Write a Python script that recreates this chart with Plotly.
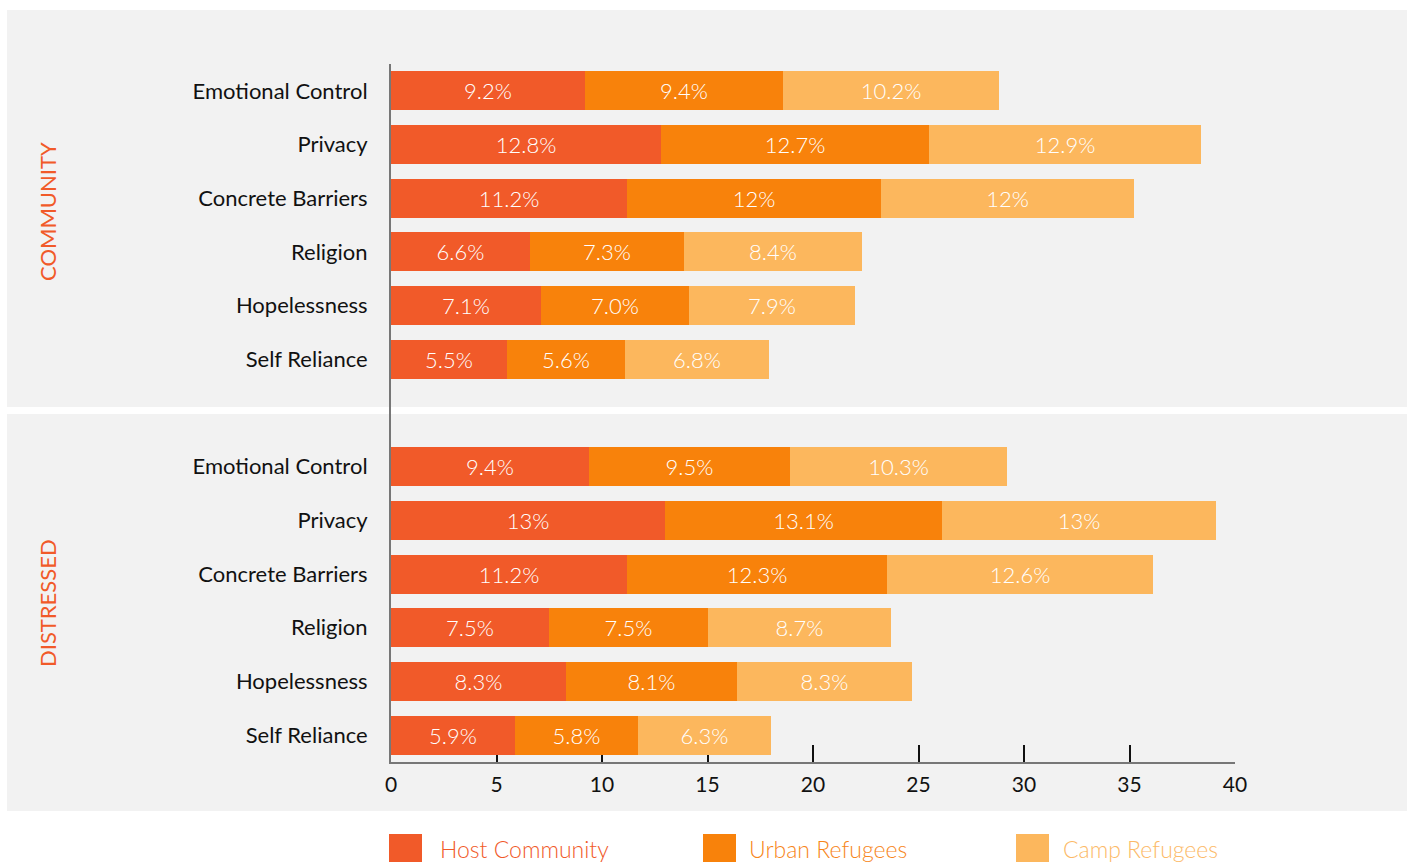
import plotly.graph_objects as go

# ---------------- data ----------------
categories = ["Emotional Control", "Privacy", "Concrete Barriers",
              "Religion", "Hopelessness", "Self Reliance"]
groups = ["COMMUNITY", "DISTRESSED"]
series = ["Host Community", "Urban Refugees", "Camp Refugees"]

host_community = [9.2, 12.8, 11.2, 6.6, 7.1, 5.5]
urban_community = [9.4, 12.7, 12.0, 7.3, 7.0, 5.6]
camp_community = [10.2, 12.9, 12.0, 8.4, 7.9, 6.8]

host_distressed = [9.4, 13.0, 11.2, 7.5, 8.3, 5.9]
urban_distressed = [9.5, 13.1, 12.3, 7.5, 8.1, 5.8]
camp_distressed = [10.3, 13.0, 12.6, 8.7, 8.3, 6.3]

host_community_labels = ["9.2%", "12.8%", "11.2%", "6.6%", "7.1%", "5.5%"]
urban_community_labels = ["9.4%", "12.7%", "12%", "7.3%", "7.0%", "5.6%"]
camp_community_labels = ["10.2%", "12.9%", "12%", "8.4%", "7.9%", "6.8%"]
host_distressed_labels = ["9.4%", "13%", "11.2%", "7.5%", "8.3%", "5.9%"]
urban_distressed_labels = ["9.5%", "13.1%", "12.3%", "7.5%", "8.1%", "5.8%"]
camp_distressed_labels = ["10.3%", "13%", "12.6%", "8.7%", "8.3%", "6.3%"]

x_ticks = [0, 5, 10, 15, 20, 25, 30, 35, 40]

# ---------------- style ----------------
colors = ["#F15A29", "#F8820B", "#FCB75D"]
legend_text_colors = ["#F15A29", "#F7861A", "#FCBA68"]
panel_gray = "#F2F2F2"
FONT = "Lato"

W_PX, H_PX = 1407, 862
L, R, T, B = 391, 1235, 64, 762


def px_x(x):
    return (x - L) / (R - L)


def px_y(y):
    return (B - y) / (B - T)


n = len(categories)
pos_comm = list(range(n))
pos_dist = [n + 1 + i for i in range(n)]
positions = pos_comm + pos_dist

values = [
    (host_community + host_distressed, host_community_labels + host_distressed_labels),
    (urban_community + urban_distressed, urban_community_labels + urban_distressed_labels),
    (camp_community + camp_distressed, camp_community_labels + camp_distressed_labels),
]

fig = go.Figure()
for name, color, (vals, labs) in zip(series, colors, values):
    fig.add_trace(go.Bar(
        name=name, y=positions, x=vals, orientation="h",
        marker=dict(color=color, line=dict(width=0)),
        width=0.726,
        text=labs, texttemplate="%{text}", textposition="inside",
        insidetextanchor="middle",
        textfont=dict(family=FONT, size=22, color="white", weight=300),
        hoverinfo="x+name", showlegend=False,
    ))

shapes = [
    dict(type="rect", xref="paper", yref="paper", layer="below",
         x0=px_x(7), x1=px_x(1410), y0=px_y(407), y1=px_y(10),
         fillcolor=panel_gray, line=dict(width=0)),
    dict(type="rect", xref="paper", yref="paper", layer="below",
         x0=px_x(7), x1=px_x(1410), y0=px_y(811), y1=px_y(414),
         fillcolor=panel_gray, line=dict(width=0)),
]

annotations = [
    dict(text=groups[0], xref="paper", yref="paper", x=px_x(47), y=px_y(212),
         textangle=-90, showarrow=False, xanchor="center", yanchor="middle",
         font=dict(family=FONT, size=22, color="#F15A29")),
    dict(text=groups[1], xref="paper", yref="paper", x=px_x(47), y=px_y(603),
         textangle=-90, showarrow=False, xanchor="center", yanchor="middle",
         font=dict(family=FONT, size=22, color="#F15A29")),
]

# manual legend
legend_box_x = [389, 703, 1016]
legend_text_x = [438, 747, 1061]
for name, color, tcolor, bx, tx in zip(series, colors, legend_text_colors,
                                       legend_box_x, legend_text_x):
    shapes.append(dict(type="rect", xref="paper", yref="paper",
                       x0=px_x(bx), x1=px_x(bx + 33), y0=px_y(870), y1=px_y(834),
                       fillcolor=color, line=dict(width=0)))
    annotations.append(dict(text=name, xref="paper", yref="paper",
                            x=px_x(tx), y=px_y(849), showarrow=False,
                            xanchor="left", yanchor="middle",
                            font=dict(family=FONT, size=23, color=tcolor, weight=300)))

fig.update_layout(
    width=W_PX, height=H_PX,
    margin=dict(l=L, r=W_PX - R, t=T, b=H_PX - B, pad=0),
    barmode="stack", bargap=0,
    paper_bgcolor="white", plot_bgcolor="rgba(0,0,0,0)",
    font=dict(family=FONT, color="#111111"),
    shapes=shapes, annotations=annotations,
    xaxis=dict(range=[0, 40], tickvals=x_ticks, ticktext=[str(t) for t in x_ticks],
               showgrid=False, zeroline=False,
               showline=True, linecolor="#777777", linewidth=2,
               ticks="inside", ticklen=17, tickwidth=2, tickcolor="#111111",
               tickfont=dict(family=FONT, size=21, color="#111111"),
               ticklabelstandoff=3, fixedrange=True, layer="below traces"),
    yaxis=dict(range=[len(positions) + 0.5, -0.5],
               tickvals=positions, ticktext=categories + categories,
               showgrid=False, zeroline=False,
               showline=True, linecolor="#777777", linewidth=2,
               ticks="", tickfont=dict(family=FONT, size=22, color="#111111"),
               ticklabelstandoff=17, fixedrange=True),
)

fig.write_html(
    "out.html",
    config={"displayModeBar": False},
    post_script="document.body.style.margin='0';document.body.style.overflow='hidden';",
)
